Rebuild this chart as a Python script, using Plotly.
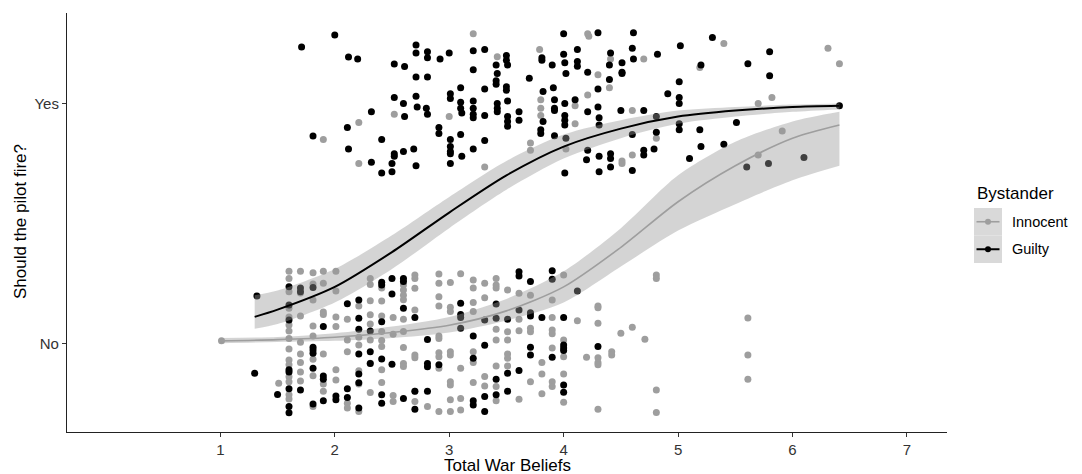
import plotly.graph_objects as go

# ---------------- data ----------------
# Points with the outcome "Yes" (jittered around 1), as (belief, jittered response)
guilty_yes = [
    (1.71, 1.235), (2.00, 1.285), (2.12, 1.194), (2.20, 1.185), (2.52, 1.164), (2.61, 1.154),
    (2.71, 1.244), (2.71, 1.21), (2.81, 1.215), (2.81, 1.19), (2.92, 1.185), (3.00, 1.21),
    (3.21, 1.22), (3.21, 1.14), (2.71, 1.11), (2.81, 1.11), (3.10, 1.065), (2.52, 1.025),
    (2.71, 1.03), (2.60, 1.00), (2.72, 0.985), (2.80, 0.98), (2.81, 0.955), (2.61, 0.945),
    (2.32, 0.965), (3.01, 1.04), (3.01, 1.02), (3.10, 1.005), (3.10, 0.98), (3.11, 0.96),
    (3.21, 1.01), (3.21, 0.98), (3.21, 0.955), (3.21, 0.94), (2.11, 0.90), (1.81, 0.864),
    (2.12, 0.81), (2.41, 0.85), (2.52, 0.79), (2.52, 0.78), (2.60, 0.80), (2.69, 0.81),
    (2.32, 0.755), (2.50, 0.75), (2.41, 0.71), (2.50, 0.715), (2.71, 0.74), (2.91, 0.90),
    (2.91, 0.875), (3.01, 0.85), (3.01, 0.82), (3.01, 0.80), (3.01, 0.79), (3.01, 0.75),
    (3.10, 0.87), (3.11, 0.78), (3.21, 0.81),
    (3.31, 1.225), (3.50, 1.20), (3.50, 1.18), (3.51, 1.16), (3.41, 1.16), (3.42, 1.125),
    (3.41, 1.095), (3.41, 1.08), (3.50, 1.07), (3.50, 1.055), (3.31, 1.06), (3.70, 1.105),
    (3.81, 1.19), (3.81, 1.18), (4.00, 1.29), (4.00, 1.205), (4.01, 1.17), (4.02, 1.125),
    (4.12, 1.225), (4.12, 1.175), (4.12, 1.155), (3.90, 1.16), (4.30, 1.295), (4.61, 1.295),
    (4.60, 1.23), (4.61, 1.185), (4.41, 1.21), (4.40, 1.16), (4.51, 1.17), (4.51, 1.13),
    (4.51, 1.125), (4.21, 1.13), (4.40, 1.10), (4.30, 1.06), (4.82, 1.205), (5.02, 1.24),
    (3.82, 1.05), (3.91, 1.065), (3.92, 1.015), (3.92, 0.98), (3.92, 0.97), (4.01, 1.00),
    (4.10, 1.015), (4.30, 0.985), (4.21, 0.965), (4.01, 0.95), (4.01, 0.93), (4.01, 0.91),
    (3.82, 0.925), (3.31, 0.95), (3.42, 1.00), (3.42, 0.98), (3.42, 0.965), (3.51, 1.01),
    (3.51, 0.945), (3.51, 0.925), (3.51, 0.905), (3.61, 0.965), (3.61, 0.93), (3.80, 0.89),
    (3.80, 0.875), (3.92, 0.865), (3.31, 0.845), (4.02, 0.855), (4.31, 0.94), (4.31, 0.91),
    (4.21, 0.805), (4.50, 0.97), (4.70, 0.97), (4.81, 0.945), (4.60, 0.87), (4.81, 0.88),
    (5.01, 1.09), (5.01, 1.025), (5.01, 1.00), (4.91, 1.04), (5.01, 0.915), (5.01, 0.89),
    (5.19, 0.89), (5.20, 1.16), (5.20, 0.82), (5.10, 0.77), (4.20, 0.765), (4.31, 0.78),
    (4.41, 0.79), (4.41, 0.77), (4.41, 0.735), (4.70, 0.805), (4.70, 0.785), (4.79, 0.81),
    (4.31, 0.715), (4.60, 0.72), (4.01, 0.71),
    (5.30, 1.275), (5.80, 1.215), (5.61, 1.165), (5.80, 1.115), (6.41, 0.99), (5.51, 0.92),
    (5.40, 0.83), (5.60, 0.735), (5.79, 0.75), (6.10, 0.775),
]
innocent_yes = [
    (3.21, 1.29), (2.52, 0.955), (3.00, 0.945), (2.21, 0.92), (1.90, 0.85), (2.21, 0.75),
    (4.21, 1.29), (4.22, 1.28), (3.79, 1.225), (3.42, 1.195), (4.41, 1.185), (4.70, 1.185),
    (4.30, 1.12), (4.40, 1.065), (4.21, 1.035), (3.80, 1.015), (3.80, 0.98), (3.80, 0.95),
    (4.10, 0.99), (4.60, 0.97), (4.10, 0.915), (5.19, 1.15), (3.71, 0.835), (3.71, 0.805),
    (4.02, 0.81), (3.31, 0.735), (4.60, 0.785), (4.51, 0.76), (4.51, 0.75), (4.81, 0.855),
    (5.40, 1.25), (6.31, 1.23), (6.41, 1.165), (5.82, 1.025), (5.70, 1.00), (5.91, 0.885),
    (5.70, 0.785),
]
# Points with the outcome "No" (jittered around 0), grouped by belief column
innocent_no = [
    (1.01, [0.01]),
    (1.51, [-0.167]),
    (1.60, [0.30, 0.27, 0.215, 0.146, 0.11, 0.076, 0.051, 0.02, -0.024, -0.07, -0.09, -0.14, -0.16, -0.215, -0.232]),
    (1.70, [0.30, 0.21, 0.114, 0.004, -0.045, -0.08, -0.12, -0.157]),
    (1.81, [0.294, 0.247, 0.18, 0.072, 0.03, -0.067, -0.135, -0.264]),
    (1.90, [0.30, 0.25, 0.13, 0.12, -0.045, -0.2, -0.17]),
    (2.01, [0.30, 0.218, 0.11, 0.07, -0.11, -0.153]),
    (2.11, [0.10, 0.014, -0.035, -0.25, -0.27]),
    (2.21, [0.155, 0.025, -0.007, -0.115, -0.17, -0.285]),
    (2.31, [0.27, 0.245, 0.177, 0.119, 0.08, 0.014, -0.083, -0.205]),
    (2.41, [0.23, 0.176, 0.114, 0.049, 0.011, -0.014, -0.11, -0.164]),
    (2.51, [0.107, 0.038, -0.218, -0.243]),
    (2.60, [0.243, 0.222, 0.20, 0.181, 0.10, 0.049, -0.018, -0.084, -0.097]),
    (2.70, [0.285, 0.27, 0.229, 0.139, -0.049, -0.06, -0.2, -0.243]),
    (2.81, [-0.264]),
    (2.91, [0.289, 0.25, 0.194, 0.155, 0.03, 0.02, -0.04, -0.056, -0.104, -0.285]),
    (3.01, [0.253, 0.15, 0.132, -0.035, -0.049, -0.16, -0.174, -0.236, -0.285]),
    (3.10, [0.29, -0.104, -0.23, -0.278]),
    (3.21, [0.264, 0.23, 0.17, 0.132, -0.035, -0.08, -0.164]),
    (3.31, [0.25, 0.19, -0.139, -0.178]),
    (3.41, [0.27, 0.243, 0.23, 0.058, 0.014, -0.095, -0.18, -0.24]),
    (3.51, [0.222, 0.048, 0.014, -0.045, -0.062, -0.095]),
    (3.61, [0.208, 0.1, 0.052, -0.233]),
    (3.71, [0.2, 0.063, 0.048, -0.16]),
    (3.81, [-0.08, -0.128, -0.21]),
    (3.90, [0.18, 0.107, 0.055, 0.04, -0.02, -0.16, -0.18]),
    (4.00, [0.285, 0.014, -0.056, -0.128, -0.246]),
    (4.12, [0.094]),
    (4.20, [-0.058]),
    (4.30, [0.155, 0.148, 0.083, -0.06, -0.08, -0.09, -0.275]),
    (4.42, [-0.035, -0.049]),
    (4.50, [0.042]),
    (4.60, [0.067]),
    (4.71, [0.017]),
    (4.81, [0.285, 0.27, -0.195, -0.289]),
    (5.61, [0.105, -0.049, -0.15]),
]
guilty_no = [
    (1.32, [0.197]),
    (1.30, [-0.125]),
    (1.50, [-0.214]),
    (1.60, [0.236, 0.16, 0.097, -0.11, -0.12, -0.19, -0.264, -0.29]),
    (1.70, [0.23, 0.215, -0.195]),
    (1.81, [0.233, -0.017, -0.028, -0.042, -0.104, -0.253]),
    (1.90, [0.07, -0.136, -0.15, -0.24]),
    (2.01, [-0.22, -0.236]),
    (2.11, [0.165, -0.19, -0.226]),
    (2.21, [0.18, 0.104, 0.058, -0.045, -0.128, -0.165, -0.27]),
    (2.31, [0.051, -0.035, -0.084]),
    (2.41, [0.254, 0.243, 0.09, -0.066, -0.215, -0.25]),
    (2.50, [0.27, 0.205, -0.087]),
    (2.60, [0.27, 0.258, 0.146, -0.23]),
    (2.70, [0.107, -0.2, -0.275]),
    (2.81, [0.016, -0.084, -0.098, -0.2]),
    (2.91, [-0.09]),
    (3.10, [0.167, 0.12, 0.107, 0.063]),
    (3.21, [0.03, -0.063, -0.24, -0.257]),
    (3.31, [0.097, -0.008, -0.222, -0.285]),
    (3.41, [0.164, 0.104, -0.15, -0.215]),
    (3.51, [0.1, -0.125, -0.2]),
    (3.61, [0.298, 0.28, 0.139, -0.114]),
    (3.71, [0.257, 0.127, 0.114, -0.017, -0.049]),
    (3.81, [0.107]),
    (3.90, [0.302, 0.267, -0.058]),
    (4.00, [0.107, -0.007, -0.02, -0.03, -0.174, -0.204]),
    (4.12, [0.218]),
    (4.30, [-0.014]),
]

# Fitted logistic curves with confidence bands
guilty_curve_x = [1.3, 1.5, 2.0, 2.5, 3.0, 3.5, 4.0, 4.5, 5.0, 5.5, 6.0, 6.41]
guilty_fit = [0.11, 0.14, 0.235, 0.38, 0.545, 0.70, 0.82, 0.895, 0.945, 0.97, 0.985, 0.99]
guilty_lo = [0.06, 0.08, 0.17, 0.31, 0.48, 0.64, 0.77, 0.855, 0.915, 0.945, 0.965, 0.975]
guilty_hi = [0.20, 0.22, 0.31, 0.45, 0.61, 0.76, 0.87, 0.93, 0.97, 0.985, 0.995, 1.0]

innocent_curve_x = [1.0, 1.5, 2.0, 2.5, 3.0, 3.5, 4.0, 4.5, 5.0, 5.5, 6.0, 6.41]
innocent_fit = [0.01, 0.015, 0.025, 0.045, 0.075, 0.135, 0.235, 0.40, 0.59, 0.74, 0.855, 0.91]
innocent_lo = [0.0, 0.005, 0.01, 0.022, 0.045, 0.095, 0.17, 0.32, 0.47, 0.58, 0.68, 0.74]
innocent_hi = [0.022, 0.026, 0.042, 0.07, 0.11, 0.185, 0.30, 0.48, 0.70, 0.84, 0.925, 0.965]

x_ticks = [1, 2, 3, 4, 5, 6, 7]
y_ticks = [0, 1]
y_tick_labels = ["No", "Yes"]
groups = ["Innocent", "Guilty"]

# ---------------- styling ----------------
COL = {"Innocent": "#9e9e9e", "Guilty": "#000000"}
BAND = "rgba(153,153,153,0.42)"
FONT = "Liberation Sans, Arial, sans-serif"


def expand(cols):
    xs, ys = [], []
    for x, yl in cols:
        for y in yl:
            xs.append(x)
            ys.append(y)
    return xs, ys


fig = go.Figure()

pts = {
    "Innocent": [innocent_no, innocent_yes],
    "Guilty": [guilty_no, guilty_yes],
}
for g in groups:
    nx, ny = expand(pts[g][0])
    yx = [p[0] for p in pts[g][1]]
    yy = [p[1] for p in pts[g][1]]
    fig.add_trace(go.Scatter(
        x=nx + yx, y=ny + yy, mode="markers", showlegend=False,
        marker=dict(size=7, color=COL[g], line=dict(width=0)), hoverinfo="skip"))

curves = {
    "Innocent": (innocent_curve_x, innocent_fit, innocent_lo, innocent_hi, 1.6),
    "Guilty": (guilty_curve_x, guilty_fit, guilty_lo, guilty_hi, 2.0),
}
for g in groups:
    cx, fit, lo, hi, w = curves[g]
    fig.add_trace(go.Scatter(
        x=cx, y=lo, mode="lines", line=dict(width=0, shape="spline", smoothing=0.8),
        showlegend=False, hoverinfo="skip"))
    fig.add_trace(go.Scatter(
        x=cx, y=hi, mode="lines", fill="tonexty", fillcolor=BAND,
        line=dict(width=0, shape="spline", smoothing=0.8),
        showlegend=False, hoverinfo="skip"))
for g in groups:
    cx, fit, lo, hi, w = curves[g]
    fig.add_trace(go.Scatter(
        x=cx, y=fit, mode="lines", line=dict(color=COL[g], width=w, shape="spline", smoothing=0.8),
        showlegend=False, hoverinfo="skip"))

# plot-area pixel geometry
L_PX, R_PX, T_PX, B_PX = 67, 947, 13, 432
W, H = 1082, 474


def px_x(px):
    return (px - L_PX) / (R_PX - L_PX)


def px_y(py):
    return (B_PX - py) / (B_PX - T_PX)


shapes = []
annotations = []
# legend
annotations.append(dict(x=px_x(975), y=px_y(193), xref="paper", yref="paper", text="Bystander",
                        showarrow=False, xanchor="left", yanchor="middle",
                        font=dict(family=FONT, size=17, color="#000000")))
key_tops = [208, 235.5]
for g, top in zip(groups, key_tops):
    bot = top + 27.5
    shapes.append(dict(type="rect", xref="paper", yref="paper",
                       x0=px_x(974), x1=px_x(1002), y0=px_y(bot), y1=px_y(top),
                       fillcolor="#d9d9d9", line=dict(width=0), layer="above"))
    cy = (top + bot) / 2
    shapes.append(dict(type="line", xref="paper", yref="paper",
                       x0=px_x(976.5), x1=px_x(999.5), y0=px_y(cy), y1=px_y(cy),
                       line=dict(color=COL[g], width=1.6 if g == "Innocent" else 2.0), layer="above"))
    shapes.append(dict(type="circle", xref="paper", yref="paper",
                       x0=px_x(985), x1=px_x(991), y0=px_y(cy + 3), y1=px_y(cy - 3),
                       fillcolor=COL[g], line=dict(width=0), layer="above"))
    annotations.append(dict(x=px_x(1010), y=px_y(cy), xref="paper", yref="paper", text=g,
                            showarrow=False, xanchor="left", yanchor="middle",
                            font=dict(family=FONT, size=14.5, color="#000000")))

# axis titles
annotations.append(dict(x=0.5, y=px_y(466), xref="paper", yref="paper", text="Total War Beliefs",
                        showarrow=False, xanchor="center", yanchor="middle",
                        font=dict(family=FONT, size=17, color="#000000")))
annotations.append(dict(x=px_x(20), y=px_y(222), xref="paper", yref="paper",
                        text="Should the pilot fire?", textangle=-90,
                        showarrow=False, xanchor="center", yanchor="middle",
                        font=dict(family=FONT, size=17, color="#000000")))

fig.update_layout(
    width=W, height=H,
    margin=dict(l=L_PX, r=W - R_PX, t=T_PX, b=H - B_PX),
    paper_bgcolor="white", plot_bgcolor="white",
    font=dict(family=FONT, color="#333333"),
    showlegend=False,
    shapes=shapes, annotations=annotations,
    xaxis=dict(range=[-0.34, 7.35], tickvals=x_ticks, ticktext=[str(t) for t in x_ticks],
               showgrid=False, zeroline=False, showline=True, linecolor="#222222", linewidth=1.2,
               ticks="outside", ticklen=4, tickcolor="#333333", tickwidth=1.1,
               tickfont=dict(family=FONT, size=15, color="#333333")),
    yaxis=dict(range=[-0.37, 1.377], tickvals=y_ticks, ticktext=y_tick_labels,
               showgrid=False, zeroline=False, showline=True, linecolor="#222222", linewidth=1.2,
               ticks="outside", ticklen=4, tickcolor="#333333", tickwidth=1.1,
               tickfont=dict(family=FONT, size=15, color="#333333")),
)

fig.write_html("out.html")
